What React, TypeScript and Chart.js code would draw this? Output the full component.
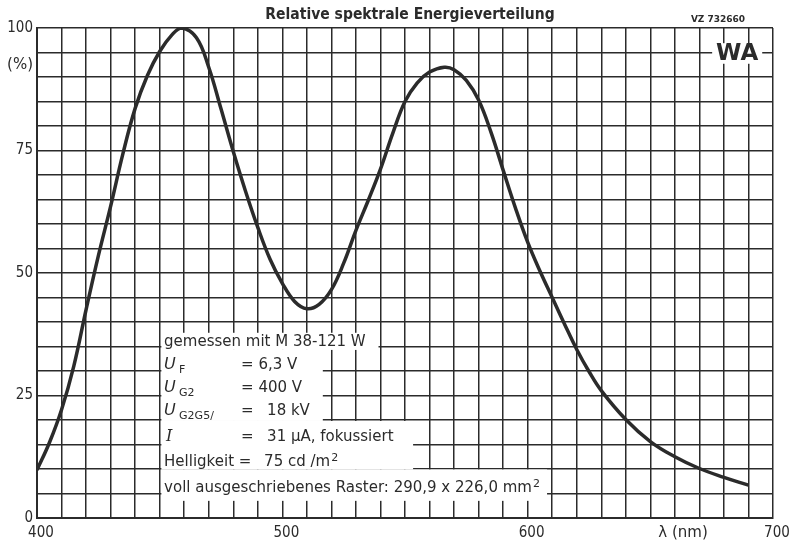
import React, { useEffect, useRef } from "react";
import { Chart, registerables } from "chart.js";

Chart.register(...registerables);

// ---- data ----
const wavelengthNm = [
  400, 405, 410, 415, 420, 425, 430, 435, 440, 445, 450, 455, 459, 465, 470, 475, 480, 485, 490,
  495, 500, 505, 510, 515, 520, 525, 530, 535, 540, 545, 550, 555, 560, 566, 570, 575, 580, 585, 590,
  595, 600, 605, 610, 615, 620, 625, 630, 640, 650, 660, 670, 680, 690,
];
const relativeEnergy = [
  9.8, 15.3, 22.1, 31, 42.5, 53.5, 63.6, 74.3, 83.6, 90.3, 95.2, 98.6, 100, 98, 92, 83.5, 74.8, 66.7, 59.3,
  52.8, 47.9, 44.2, 42.7, 43.6, 46.6, 52, 58.7, 64.8, 71.2, 78.5, 85, 88.8, 91, 92, 91.5, 89.3, 85.3, 78.8, 71,
  63.3, 56.3, 50.4, 45, 39.6, 34.4, 29.9, 26, 20.1, 15.6, 12.5, 10.1, 8.3, 6.7,
];
const xLabelValues = [400, 500, 600, 700];
const yLabelValues = [0, 25, 50, 75, 100];

const titleText = "Relative spektrale Energieverteilung";
const refText = "VZ 732660";
const tubeText = "WA";
const yUnitText = "(%)";
const xUnitText = "λ (nm)";

const INK = "#2b2b2b";
const COND = "'DejaVu Sans Condensed', 'DejaVu Sans', sans-serif";
const SANS = "'DejaVu Sans', sans-serif";

// white masks over the grid (value coordinates: x0, x1 in nm, yTop, yBottom in %)
const masks: [number, number, number, number][] = [
  [450.7, 539.2, 37.8, 34.3],
  [450.7, 516.5, 34.3, 19.8],
  [450.7, 553.3, 19.8, 9.9],
  [450.7, 607.9, 9.9, 3.5],
  [675.2, 695.6, 96.9, 92.7],
];

function App() {
  const ref = useRef<HTMLCanvasElement | null>(null);
  useEffect(() => {
    if (!ref.current) return;
    const paper = {
      id: "paper",
      beforeDraw(chart: any) {
        const { ctx, width, height } = chart;
        ctx.save();
        ctx.fillStyle = "#ffffff";
        ctx.fillRect(0, 0, width, height);
        ctx.restore();
      },
      beforeDatasetsDraw(chart: any) {
        const { ctx } = chart;
        const xs = chart.scales.x;
        const ys = chart.scales.y;
        ctx.save();
        ctx.fillStyle = "#ffffff";
        masks.forEach(([a, b, t, bt]) => {
          const x0 = xs.getPixelForValue(a);
          const x1 = xs.getPixelForValue(b);
          const y0 = ys.getPixelForValue(t);
          const y1 = ys.getPixelForValue(bt);
          ctx.fillRect(x0, y0, x1 - x0, y1 - y0);
        });
        ctx.restore();
      },
      afterDraw(chart: any) {
        const { ctx, chartArea } = chart;
        const xs = chart.scales.x;
        const ys = chart.scales.y;
        ctx.save();
        ctx.fillStyle = INK;
        ctx.textBaseline = "middle";
        // title
        ctx.textAlign = "center";
        ctx.font = `bold 15.5px ${COND}`;
        ctx.fillText(titleText, 410, 15);
        ctx.font = `bold 9px ${SANS}`;
        ctx.fillText(refText, 718, 20);
        // WA
        ctx.font = `bold 23px ${SANS}`;
        ctx.fillText(tubeText, xs.getPixelForValue(685.4), ys.getPixelForValue(94.8) + 1);
        // axis units
        ctx.font = `15px ${SANS}`;
        ctx.textAlign = "right";
        ctx.fillText(yUnitText, chartArea.left - 4, 65);
        ctx.textAlign = "center";
        ctx.fillText(xUnitText, 683, 533);
        // info block
        const bx = xs.getPixelForValue(451.8);
        const ex = bx + 77;
        const vx = bx + 103;
        const row = (v: number) => ys.getPixelForValue(v);
        ctx.textAlign = "left";
        const reg = `15px ${SANS}`;
        const ital = `italic 16px ${SANS}`;
        const italI = `italic 16px 'DejaVu Serif', serif`;
        const sub = `11px ${SANS}`;
        ctx.font = reg;
        ctx.fillText("gemessen mit M 38-121 W", bx, row(35.9));
        const uRow = (y: number, s: string) => {
          ctx.font = ital;
          ctx.fillText("U", bx, y);
          ctx.font = sub;
          ctx.fillText(s, bx + 15, y + 5);
          ctx.font = reg;
        };
        uRow(row(31.2), "F");
        ctx.fillText("= 6,3 V", ex, row(31.2));
        uRow(row(26.5), "G2");
        ctx.fillText("= 400 V", ex, row(26.5));
        uRow(row(21.8), "G2G5/");
        ctx.fillText("=", ex, row(21.8));
        ctx.fillText("18 kV", vx, row(21.8));
        ctx.font = italI;
        ctx.fillText("I", bx + 2, row(16.5));
        ctx.font = reg;
        ctx.fillText("=", ex, row(16.5));
        ctx.fillText("31 µA, fokussiert", vx, row(16.5));
        ctx.fillText("Helligkeit =", bx, row(11.4));
        const hx = bx + 100;
        ctx.fillText("75 cd /m", hx, row(11.4));
        const hw = ctx.measureText("75 cd /m").width;
        ctx.font = sub;
        ctx.fillText("2", hx + hw + 1, row(11.4) - 4);
        ctx.font = reg;
        const vt = "voll ausgeschriebenes Raster: 290,9 x 226,0 mm";
        ctx.fillText(vt, bx, row(6.1));
        const vw = ctx.measureText(vt).width;
        ctx.font = sub;
        ctx.fillText("2", bx + vw + 1, row(6.1) - 4);
        ctx.restore();
      },
    };

    const chart = new Chart(ref.current, {
      type: "line",
      data: {
        datasets: [
          {
            data: wavelengthNm.map((x, i) => ({ x, y: relativeEnergy[i] })),
            borderColor: INK,
            borderWidth: 3.5,
            pointRadius: 0,
            tension: 0.4,
            fill: false,
          },
        ],
      },
      options: {
        animation: false,
        responsive: true,
        maintainAspectRatio: false,
        layout: { padding: { left: 0, right: 24, top: 28, bottom: 0 } },
        plugins: { legend: { display: false }, tooltip: { enabled: false }, title: { display: false } },
        scales: {
          x: {
            type: "linear",
            min: 400,
            max: 700,
            afterFit: (s: any) => {
              s.height = 28;
            },
            grid: { color: INK, lineWidth: 1.5, drawTicks: false },
            border: { color: INK, width: 2 },
            ticks: {
              stepSize: 10,
              autoSkip: false,
              maxRotation: 0,
              padding: 6,
              labelOffset: 4,
              color: INK,
              font: { family: COND, size: 15 },
              callback: (v: any) => (xLabelValues.includes(Number(v)) ? String(v) : ""),
            },
          },
          y: {
            min: 0,
            max: 100,
            afterFit: (s: any) => {
              s.width = 37;
            },
            grid: { color: INK, lineWidth: 1.5, drawTicks: false },
            border: { color: INK, width: 2 },
            ticks: {
              stepSize: 5,
              autoSkip: false,
              padding: 4,
              color: INK,
              font: { family: COND, size: 15 },
              callback: (v: any) => (yLabelValues.includes(Number(v)) ? String(v) : ""),
            },
          },
        },
      },
      plugins: [paper],
    } as any);
    return () => chart.destroy();
  }, []);

  return (
    <div style={{ position: "fixed", left: 0, top: 0, width: 797, height: 546, background: "#fff" }}>
      <canvas ref={ref} />
    </div>
  );
}

export default App;
